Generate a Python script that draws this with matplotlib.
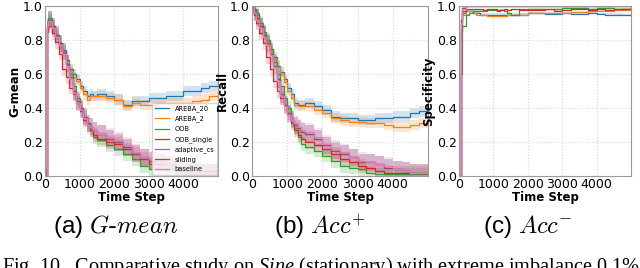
import matplotlib
matplotlib.use("Agg")
import matplotlib.pyplot as plt

# time grid (steps)
steps = [0, 50, 100, 200, 300, 400, 500, 600, 700, 800, 900, 1000, 1100, 1200, 1300, 1400,
         1500, 1750, 2000, 2250, 2500, 2750, 3000, 3250, 3500, 3750, 4000, 4250, 4500, 4750, 5000]

methods = ["AREBA_20", "AREBA_2", "OOB", "OOB_single", "adaptive_cs", "sliding", "baseline"]

# (a) G-mean
gmean_areba20 = [0.0, 0.88, 0.93, 0.88, 0.83, 0.78, 0.74, 0.68, 0.63, 0.60, 0.57, 0.53, 0.50, 0.47, 0.48, 0.47,
                 0.48, 0.47, 0.45, 0.42, 0.44, 0.44, 0.46, 0.46, 0.47, 0.47, 0.50, 0.50, 0.52, 0.53, 0.56]
gmean_areba2 = [0.0, 0.87, 0.92, 0.87, 0.82, 0.77, 0.72, 0.67, 0.62, 0.58, 0.56, 0.52, 0.48, 0.45, 0.47, 0.47,
                0.47, 0.46, 0.45, 0.41, 0.43, 0.42, 0.42, 0.43, 0.43, 0.43, 0.43, 0.44, 0.45, 0.47, 0.49]
gmean_oob = [0.0, 0.85, 0.93, 0.88, 0.83, 0.78, 0.73, 0.66, 0.60, 0.53, 0.46, 0.40, 0.35, 0.30, 0.27, 0.23,
             0.21, 0.18, 0.16, 0.13, 0.10, 0.06, 0.04, 0.04, 0.04, 0.03, 0.03, 0.03, 0.03, 0.03, 0.04]
gmean_oob_single = [0.0, 0.86, 0.88, 0.84, 0.79, 0.72, 0.63, 0.58, 0.52, 0.48, 0.43, 0.38, 0.33, 0.30, 0.27, 0.24,
                    0.22, 0.20, 0.19, 0.16, 0.13, 0.10, 0.07, 0.07, 0.07, 0.05, 0.03, 0.03, 0.03, 0.03, 0.03]
gmean_adaptive = [0.0, 0.87, 0.92, 0.88, 0.83, 0.78, 0.73, 0.66, 0.58, 0.50, 0.44, 0.40, 0.35, 0.31, 0.29, 0.27,
                  0.25, 0.22, 0.20, 0.17, 0.13, 0.11, 0.09, 0.08, 0.07, 0.05, 0.03, 0.03, 0.02, 0.02, 0.02]
gmean_sliding = [0.0, 0.87, 0.92, 0.88, 0.83, 0.78, 0.73, 0.66, 0.58, 0.50, 0.44, 0.40, 0.35, 0.31, 0.29, 0.27,
                 0.25, 0.22, 0.20, 0.17, 0.13, 0.11, 0.09, 0.08, 0.07, 0.05, 0.03, 0.03, 0.02, 0.02, 0.02]
gmean_baseline = [0.0, 0.88, 0.91, 0.87, 0.82, 0.77, 0.72, 0.65, 0.57, 0.49, 0.43, 0.39, 0.34, 0.30, 0.29, 0.27,
                  0.25, 0.23, 0.21, 0.18, 0.14, 0.11, 0.10, 0.08, 0.07, 0.05, 0.04, 0.03, 0.02, 0.02, 0.02]
gmean_spread = [0.03, 0.03, 0.04, 0.04, 0.05, 0.05, 0.05]

# (b) Recall
recall_areba20 = [1.0, 0.98, 0.95, 0.90, 0.85, 0.80, 0.75, 0.70, 0.65, 0.61, 0.57, 0.52, 0.48, 0.43, 0.42, 0.42,
                  0.43, 0.41, 0.39, 0.35, 0.34, 0.34, 0.33, 0.33, 0.34, 0.34, 0.35, 0.35, 0.37, 0.38, 0.40]
recall_areba2 = [1.0, 0.97, 0.94, 0.89, 0.84, 0.79, 0.74, 0.69, 0.64, 0.60, 0.55, 0.50, 0.46, 0.42, 0.41, 0.41,
                 0.41, 0.39, 0.37, 0.34, 0.33, 0.32, 0.32, 0.31, 0.31, 0.30, 0.29, 0.29, 0.30, 0.31, 0.33]
recall_oob = [1.0, 0.98, 0.96, 0.90, 0.85, 0.80, 0.75, 0.67, 0.60, 0.53, 0.46, 0.40, 0.33, 0.28, 0.23, 0.19,
              0.17, 0.15, 0.12, 0.09, 0.06, 0.05, 0.04, 0.02, 0.01, 0.01, 0.01, 0.01, 0.01, 0.01, 0.01]
recall_oob_single = [1.0, 0.95, 0.90, 0.84, 0.78, 0.70, 0.63, 0.56, 0.50, 0.46, 0.42, 0.37, 0.31, 0.27, 0.24, 0.22,
                     0.20, 0.18, 0.16, 0.13, 0.10, 0.08, 0.06, 0.05, 0.03, 0.02, 0.02, 0.02, 0.02, 0.02, 0.02]
recall_adaptive = [1.0, 0.97, 0.93, 0.88, 0.83, 0.78, 0.72, 0.65, 0.57, 0.48, 0.42, 0.37, 0.33, 0.30, 0.28, 0.26,
                   0.25, 0.22, 0.18, 0.15, 0.13, 0.11, 0.08, 0.08, 0.07, 0.05, 0.04, 0.03, 0.02, 0.02, 0.02]
recall_sliding = [1.0, 0.97, 0.93, 0.88, 0.83, 0.78, 0.72, 0.65, 0.57, 0.48, 0.42, 0.37, 0.33, 0.30, 0.28, 0.26,
                  0.25, 0.22, 0.18, 0.15, 0.13, 0.11, 0.08, 0.08, 0.07, 0.05, 0.04, 0.03, 0.02, 0.02, 0.02]
recall_baseline = [1.0, 0.96, 0.92, 0.87, 0.82, 0.77, 0.71, 0.64, 0.56, 0.47, 0.41, 0.36, 0.33, 0.31, 0.29, 0.27,
                   0.26, 0.23, 0.19, 0.16, 0.14, 0.11, 0.09, 0.08, 0.07, 0.06, 0.04, 0.03, 0.02, 0.02, 0.02]
recall_spread = [0.03, 0.03, 0.04, 0.04, 0.05, 0.05, 0.05]

# (c) Specificity
spec_areba20 = [0.0, 0.85, 0.96, 0.97, 0.97, 0.96, 0.96, 0.95, 0.95, 0.95, 0.95, 0.95, 0.95, 0.95, 0.95, 0.95,
                0.95, 0.95, 0.96, 0.96, 0.955, 0.955, 0.96, 0.955, 0.955, 0.96, 0.955, 0.95, 0.95, 0.945, 0.94]
spec_areba2 = [0.0, 0.85, 0.95, 0.97, 0.97, 0.96, 0.95, 0.95, 0.945, 0.94, 0.94, 0.94, 0.94, 0.94, 0.94, 0.945,
               0.945, 0.95, 0.96, 0.96, 0.96, 0.96, 0.96, 0.965, 0.965, 0.97, 0.97, 0.97, 0.975, 0.975, 0.98]
spec_oob = [0.0, 0.60, 0.88, 0.95, 0.96, 0.97, 0.97, 0.97, 0.97, 0.975, 0.975, 0.975, 0.975, 0.975, 0.97, 0.96,
            0.945, 0.98, 0.985, 0.985, 0.98, 0.985, 0.99, 0.99, 0.99, 0.985, 0.99, 0.99, 0.985, 0.985, 0.99]
spec_oob_single = [0.0, 0.90, 0.97, 0.98, 0.98, 0.98, 0.98, 0.98, 0.975, 0.98, 0.98, 0.98, 0.97, 0.975, 0.98, 0.975,
                   0.98, 0.975, 0.975, 0.975, 0.98, 0.97, 0.975, 0.98, 0.985, 0.975, 0.985, 0.975, 0.98, 0.985, 0.98]
spec_adaptive = [0.0, 0.92, 0.99, 1.0, 1.0, 1.0, 1.0, 1.0, 1.0, 0.998, 0.998, 0.998, 0.998, 0.998, 0.998, 0.998,
                 0.998, 0.998, 0.998, 0.998, 0.998, 0.998, 0.998, 0.998, 0.998, 0.998, 0.998, 0.998, 0.998, 0.998, 0.998]
spec_sliding = [0.0, 0.92, 0.99, 1.0, 1.0, 1.0, 1.0, 1.0, 1.0, 0.998, 0.998, 0.998, 0.998, 0.998, 0.998, 0.998,
                0.998, 0.998, 0.998, 0.998, 0.998, 0.998, 0.998, 0.998, 0.998, 0.998, 0.998, 0.998, 0.998, 0.998, 0.998]
spec_baseline = [0.0, 0.90, 0.985, 0.998, 0.998, 0.998, 0.998, 0.998, 0.998, 0.998, 0.998, 0.998, 0.998, 0.998, 0.998, 0.998,
                 0.998, 0.998, 0.998, 0.998, 0.998, 0.998, 0.998, 0.998, 0.998, 0.998, 0.998, 0.998, 0.998, 0.998, 0.998]
spec_spread = [0.006, 0.006, 0.005, 0.005, 0.002, 0.002, 0.002]

panels = [
    ("G-mean", [gmean_areba20, gmean_areba2, gmean_oob, gmean_oob_single, gmean_adaptive, gmean_sliding, gmean_baseline], gmean_spread),
    ("Recall", [recall_areba20, recall_areba2, recall_oob, recall_oob_single, recall_adaptive, recall_sliding, recall_baseline], recall_spread),
    ("Specificity", [spec_areba20, spec_areba2, spec_oob, spec_oob_single, spec_adaptive, spec_sliding, spec_baseline], spec_spread),
]

colors = ["tab:blue", "tab:orange", "tab:green", "tab:red", "tab:purple", "tab:brown", "tab:pink"]

plt.rcParams['mathtext.fontset'] = 'custom'
plt.rcParams['mathtext.rm'] = 'Liberation Serif'
plt.rcParams['mathtext.it'] = 'Liberation Serif:italic'

fig = plt.figure(figsize=(6.4, 2.68), dpi=100)
boxes = [(45, 173), (252, 176), (459, 172)]

for (left, width), (ylab, series, spread) in zip(boxes, panels):
    ax = fig.add_axes([left / 640, 1 - 176 / 268, width / 640, 170 / 268])
    for name, vals, sd, c in zip(methods, series, spread, colors):
        lo = [v - sd for v in vals]
        hi = [min(v + sd, 1.0) for v in vals]
        ax.fill_between(steps, lo, hi, step='post', color=c, alpha=0.2, linewidth=0)
        ax.plot(steps, vals, drawstyle='steps-post', color=c, lw=0.9, label=name)
    ax.set_xlim(0, 5000)
    ax.set_ylim(0, 1)
    ax.set_xticks([0, 1000, 2000, 3000, 4000])
    ax.set_yticks([0, 0.2, 0.4, 0.6, 0.8, 1.0])
    ax.tick_params(length=0, pad=1.5, labelsize=9)
    ax.grid(True, color='#d8d8d8', linestyle=':', linewidth=0.8)
    for s in ax.spines.values():
        s.set_color('#999999')
    ax.set_ylabel(ylab, fontsize=8.5, fontweight='bold', labelpad=1)
    ax.set_xlabel("Time Step", fontsize=8.5, fontweight='bold', labelpad=0)
    if ylab == "G-mean":
        ax.legend(loc='lower right', fontsize=4.8, handlelength=2.2, labelspacing=0.55,
                  borderaxespad=0.15, framealpha=0.8, fancybox=True)

# sub-captions
subcaps = [(116, "(a) ", r"$G\text{-}mean$"), (320, "(b) ", r"$Acc^{+}$"), (528, "(c) ", r"$Acc^{-}$")]
for cx, tag, mtxt in subcaps:
    fig.text(cx / 640, 1 - 227 / 268, tag + mtxt, ha='center', va='center', fontsize=17.5,
             family='Liberation Sans', math_fontfamily='cm')

fig.text(2 / 640, 1 - 255 / 268,
         r"Fig. 10.  Comparative study on $Sine$ (stationary) with extreme imbalance 0.1%",
         ha='left', va='top', fontsize=14.6, family='Liberation Serif')

fig.savefig("out.png", dpi=100)
